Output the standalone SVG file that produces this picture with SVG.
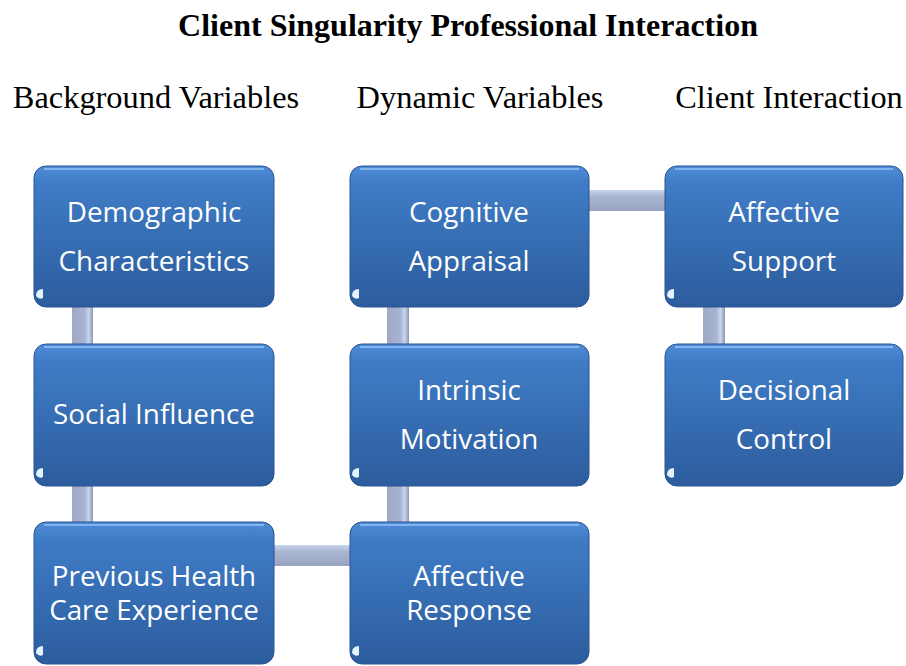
<svg xmlns="http://www.w3.org/2000/svg" width="906" height="666" viewBox="0 0 906 666">
<style>
.title{font-family:"Liberation Serif",serif;font-weight:bold;font-size:32px;fill:#000;text-anchor:middle}
.hdr{font-family:"Liberation Serif",serif;font-size:32.4px;fill:#000;text-anchor:middle}
.lbl{font-family:"Open Sans","Liberation Sans",sans-serif;font-size:27.8px;fill:#fff;text-anchor:middle}
.box{fill:url(#boxg);stroke:#2a5590;stroke-width:1}
.hl{fill:none;stroke:#8fc0f5;stroke-width:2;opacity:0.8}
.cm{fill:#e4f1ff}
.vc{fill:url(#vcg)}
.hc{fill:url(#hcg)}
</style>
<defs>
<linearGradient id="boxg" x1="0" y1="0" x2="0" y2="1">
<stop offset="0" stop-color="#4f8bd6"/>
<stop offset="0.12" stop-color="#3f7cc6"/>
<stop offset="1" stop-color="#2c5c9d"/>
</linearGradient>
<linearGradient id="vcg" x1="0" y1="0" x2="1" y2="0">
<stop offset="0" stop-color="#9fa9c6"/>
<stop offset="0.6" stop-color="#a7b3d1"/>
<stop offset="0.8" stop-color="#c9d6ee"/>
<stop offset="1" stop-color="#8a96b6"/>
</linearGradient>
<linearGradient id="hcg" x1="0" y1="0" x2="0" y2="1">
<stop offset="0" stop-color="#c9d6ee"/>
<stop offset="0.3" stop-color="#aab6d3"/>
<stop offset="1" stop-color="#98a3c0"/>
</linearGradient>
</defs>
<text class="title" x="468" y="36">Client Singularity Professional Interaction</text>
<text class="hdr" x="156" y="108">Background Variables</text>
<text class="hdr" x="480" y="108">Dynamic Variables</text>
<text class="hdr" x="789" y="108">Client Interaction</text>
<g id="connectors">
<rect class="vc" x="72" y="300" width="21" height="50"/>
<rect class="vc" x="72" y="480" width="21" height="50"/>
<rect class="hc" x="268" y="545" width="88" height="21"/>
<rect class="vc" x="387" y="300" width="22" height="50"/>
<rect class="vc" x="387" y="480" width="22" height="50"/>
<rect class="hc" x="583" y="190" width="88" height="21"/>
<rect class="vc" x="703" y="300" width="22" height="50"/>
</g>
<g id="n1">
<rect class="box" x="34" y="166" width="240" height="141" rx="12"/>
<path class="hl" d="M44 169 H264"/>
<path class="cm" d="M36 296 q0 -7 7 -7 v9 q-4 2 -7 -2 z"/>
<text class="lbl" x="154" y="222">Demographic</text>
<text class="lbl" x="154" y="271">Characteristics</text>
</g>
<g id="n2">
<rect class="box" x="34" y="344" width="240" height="142" rx="12"/>
<path class="hl" d="M44 347 H264"/>
<path class="cm" d="M36 475 q0 -7 7 -7 v9 q-4 2 -7 -2 z"/>
<text class="lbl" x="154" y="424">Social Influence</text>
</g>
<g id="n3">
<rect class="box" x="34" y="522" width="240" height="142" rx="12"/>
<path class="hl" d="M44 525 H264"/>
<path class="cm" d="M36 653 q0 -7 7 -7 v9 q-4 2 -7 -2 z"/>
<text class="lbl" x="154" y="586">Previous Health</text>
<text class="lbl" x="154" y="620">Care Experience</text>
</g>
<g id="n4">
<rect class="box" x="350" y="166" width="239" height="141" rx="12"/>
<path class="hl" d="M360 169 H579"/>
<path class="cm" d="M352 296 q0 -7 7 -7 v9 q-4 2 -7 -2 z"/>
<text class="lbl" x="469" y="222">Cognitive</text>
<text class="lbl" x="469" y="271">Appraisal</text>
</g>
<g id="n5">
<rect class="box" x="350" y="344" width="239" height="142" rx="12"/>
<path class="hl" d="M360 347 H579"/>
<path class="cm" d="M352 475 q0 -7 7 -7 v9 q-4 2 -7 -2 z"/>
<text class="lbl" x="469" y="400">Intrinsic</text>
<text class="lbl" x="469" y="449">Motivation</text>
</g>
<g id="n6">
<rect class="box" x="350" y="522" width="239" height="142" rx="12"/>
<path class="hl" d="M360 525 H579"/>
<path class="cm" d="M352 653 q0 -7 7 -7 v9 q-4 2 -7 -2 z"/>
<text class="lbl" x="469" y="586">Affective</text>
<text class="lbl" x="469" y="620">Response</text>
</g>
<g id="n7">
<rect class="box" x="665" y="166" width="238" height="141" rx="12"/>
<path class="hl" d="M675 169 H893"/>
<path class="cm" d="M667 296 q0 -7 7 -7 v9 q-4 2 -7 -2 z"/>
<text class="lbl" x="784" y="222">Affective</text>
<text class="lbl" x="784" y="271">Support</text>
</g>
<g id="n8">
<rect class="box" x="665" y="344" width="238" height="142" rx="12"/>
<path class="hl" d="M675 347 H893"/>
<path class="cm" d="M667 475 q0 -7 7 -7 v9 q-4 2 -7 -2 z"/>
<text class="lbl" x="784" y="400">Decisional</text>
<text class="lbl" x="784" y="449">Control</text>
</g>
</svg>
